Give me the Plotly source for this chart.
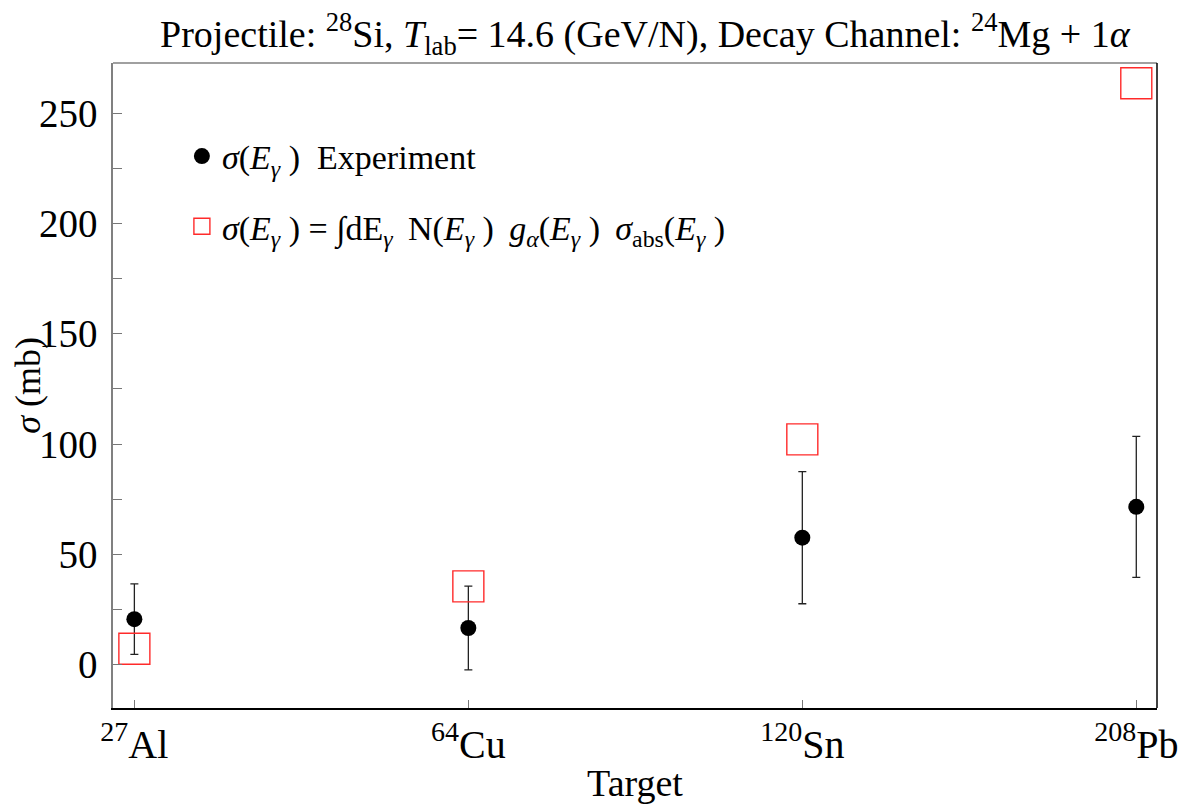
import plotly.graph_objects as go

targets = ["<sup>27</sup>Al", "<sup>64</sup>Cu", "<sup>120</sup>Sn", "<sup>208</sup>Pb"]
exp_sigma = [20.5, 16.5, 57.5, 71.5]
exp_err = [16, 19, 30, 32]
theory_sigma = [7.1, 35.4, 102.1, 263.7]

font_family = "Liberation Serif"
sp = "\u2009"

fig = go.Figure()

fig.add_trace(go.Scatter(
    x=targets, y=exp_sigma, mode="markers",
    marker=dict(color="black", size=16, symbol="circle"),
    error_y=dict(type="data", array=exp_err, visible=True, color="#222", thickness=1.3, width=4),
    name="<i>σ</i>(<i>E</i><sub><i>γ</i></sub> )  Experiment",
    legendgroup="a",
))
fig.add_trace(go.Scatter(
    x=targets, y=theory_sigma, mode="markers",
    marker=dict(color="rgba(0,0,0,0)", size=31, symbol="square",
                line=dict(color="#ff2a2a", width=1.4)),
    name="<i>σ</i>(<i>E</i><sub><i>γ</i></sub> ) = ∫dE<sub><i>γ</i></sub>" + sp + " N(<i>E</i><sub><i>γ</i></sub> )" + sp + " "
         "<i>g</i><sub><i>α</i></sub>(<i>E</i><sub><i>γ</i></sub> )" + sp + " <i>σ</i><sub>abs</sub>(<i>E</i><sub><i>γ</i></sub> )",
    legendgroup="b",
))

fig.update_layout(
    width=1186, height=804,
    margin=dict(l=105, r=37, t=55, b=104, autoexpand=False),
    paper_bgcolor="white", plot_bgcolor="white",
    font=dict(family=font_family, size=30, color="black"),
    title=dict(
        text="Projectile: <sup>28</sup>Si, <i>T</i><sub>lab</sub>= 14.6 (GeV/N), Decay Channel: <sup>24</sup>Mg + 1<i>α</i>",
        x=0.537, xanchor="center", y=0.968, yanchor="middle",
        font=dict(family=font_family, size=38, color="black"),
        automargin=False,
    ),
    showlegend=True,
    legend=dict(
        x=0.066, y=0.9, xanchor="left", yanchor="top",
        bgcolor="rgba(0,0,0,0)", font=dict(family=font_family, size=34),
        tracegroupgap=23, itemsizing="trace",
    ),
    xaxis=dict(
        type="category", range=[-0.064, 3.062], automargin=False,
        showgrid=False, zeroline=False,
        showline=True, linecolor="black", linewidth=1.5,
        ticks="inside", ticklen=8, tickcolor="#777", tickwidth=1.3,
        tickfont=dict(family=font_family, size=40),
        title=dict(text="Target", font=dict(family=font_family, size=38), standoff=4),
    ),
    yaxis=dict(
        range=[-19.8, 272.9], showgrid=False, zeroline=False, automargin=False,
        showline=True, linecolor="#808080", linewidth=1.5,
        tickmode="linear", tick0=0, dtick=50,
        ticks="inside", ticklen=9, tickcolor="#777", tickwidth=1.3,
        minor=dict(tickmode="linear", tick0=25, dtick=50, ticks="inside", ticklen=9, tickcolor="#777", tickwidth=1.3),
        tickfont=dict(family=font_family, size=39),
        ticklabelstandoff=6,
        title=dict(text="<i>σ</i> (mb)", font=dict(family=font_family, size=36), standoff=8),
    ),
    shapes=[
        dict(type="line", xref="paper", yref="paper", x0=0, x1=1, y0=1, y1=1,
             line=dict(color="#808080", width=1.5)),
        dict(type="line", xref="paper", yref="paper", x0=1, x1=1, y0=0, y1=1,
             line=dict(color="black", width=1.5)),
    ],
)

fig.write_html("out.html")
